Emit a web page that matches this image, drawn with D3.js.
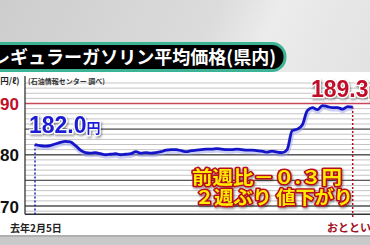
<!DOCTYPE html>
<html>
<head>
<meta charset="utf-8">
<script src="https://cdn.jsdelivr.net/npm/d3@7"></script>
<style>
  body { margin: 0; overflow: hidden; background: #e0e0e0; }
  svg { display: block; }
</style>
</head>
<body>
<script>
let width = 370;
let height = 245;

// weekly average price (yen / litre), from last Feb 5 to the day before yesterday
let prices = [
  182.0, 181.8, 181.7, 181.8, 182.1, 182.4, 182.6, 182.5, 181.8, 180.9,
  180.4, 180.3, 180.4, 180.2, 180.0, 180.1, 180.2, 180.0, 180.1, 180.2,
  180.6, 180.3, 180.4, 180.3, 180.4, 180.6, 180.9, 181.0, 181.0, 180.8,
  180.6, 180.8, 180.9, 181.0, 181.1, 181.1, 181.2, 181.1, 181.0, 181.0,
  181.1, 181.0, 180.9, 180.9, 180.8, 180.7, 180.5, 180.7, 180.5, 180.4,
  181.0, 184.7, 185.0, 185.8, 188.6, 189.2, 188.8, 189.6, 189.4, 189.2,
  189.2, 188.9, 189.4, 189.3
];
let yTicks = [170, 180, 190];
let majorLines = [170, 175, 180, 185];
let startLabel = "去年2月5日";
let endLabel = "おととい";
let title = "レギュラーガソリン平均価格(県内)";
let noteLines = ["前週比－０.３円", "２週ぶり 値下がり"];

let svg = d3.select("body")
    .append("svg")
    .attr("width", width)
    .attr("height", height);

let defs = svg.append("defs");

let bg = defs.append("linearGradient")
    .attr("id", "bg")
    .attr("x1", 0).attr("y1", 0).attr("x2", 1).attr("y2", 0.3);
bg.append("stop").attr("offset", "0").attr("stop-color", "#cdcdcd");
bg.append("stop").attr("offset", "0.55").attr("stop-color", "#dcdcdc");
bg.append("stop").attr("offset", "0.7").attr("stop-color", "#ececec");
bg.append("stop").attr("offset", "1").attr("stop-color", "#e2e2e2");

let shadow = defs.append("filter").attr("id", "shadow")
    .attr("x", "-10%").attr("y", "-20%").attr("width", "130%").attr("height", "160%");
shadow.append("feDropShadow")
    .attr("dx", 1).attr("dy", 1.5).attr("stdDeviation", 0.8)
    .attr("flood-color", "#000").attr("flood-opacity", 0.45);

// backgrounds
svg.append("rect").attr("width", width).attr("height", height).attr("fill", "url(#bg)");
svg.append("rect").attr("x", 0).attr("y", 72).attr("width", width).attr("height", 163).attr("fill", "#fff");
svg.append("rect").attr("x", 0).attr("y", 235).attr("width", width).attr("height", 10).attr("fill", "#c9c9c9");
svg.append("rect").attr("x", 0).attr("y", 235).attr("width", width).attr("height", 2).attr("fill", "#b0b0b0");

// title bar
svg.append("rect")
    .attr("x", -20).attr("y", 43.5)
    .attr("width", 305).attr("height", 27)
    .attr("rx", 13)
    .attr("fill", "#000")
    .attr("stroke", "#3bb394")
    .attr("stroke-width", 3);

svg.append("text")
    .attr("x", -8).attr("y", 64)
    .attr("textLength", 284)
    .attr("lengthAdjust", "spacingAndGlyphs")
    .attr("fill", "#fff")
    .style("font", "bold 18px 'Noto Sans CJK JP'")
    .text(title);

// scales
let yMin = 168.4;
let x = d3.scaleLinear().domain([0, prices.length - 1]).range([35, 352.7]);
let y = d3.scaleLinear().domain([170, 190]).range([206, 103.5]);
let left = 25;

// minor grid
svg.append("g")
    .selectAll("line")
    .data(d3.range(169, 195))
    .join("line")
    .attr("x1", left).attr("x2", width)
    .attr("y1", d => y(d)).attr("y2", d => y(d))
    .attr("stroke", "#c4c4c4")
    .attr("stroke-width", 1);

svg.append("g")
    .selectAll("line")
    .data(majorLines)
    .join("line")
    .attr("x1", left).attr("x2", width)
    .attr("y1", d => y(d)).attr("y2", d => y(d))
    .attr("stroke", "#5a5a5a")
    .attr("stroke-width", 1.3);

svg.append("line")
    .attr("x1", left).attr("x2", width)
    .attr("y1", y(190)).attr("y2", y(190))
    .attr("stroke", "#c8485a")
    .attr("stroke-width", 1.3);

// axes
svg.append("line")
    .attr("x1", left).attr("x2", left)
    .attr("y1", 76).attr("y2", y(yMin))
    .attr("stroke", "#333").attr("stroke-width", 1.3);
svg.append("line")
    .attr("x1", left).attr("x2", width)
    .attr("y1", y(yMin)).attr("y2", y(yMin))
    .attr("stroke", "#333").attr("stroke-width", 1.5);

let yAxis = svg.append("g")
    .attr("transform", `translate(${left - 6},0)`)
    .call(d3.axisLeft(y).tickValues(yTicks).tickSize(0).tickPadding(0));
yAxis.select(".domain").remove();
yAxis.selectAll("text")
    .attr("dy", "0.36em")
    .attr("fill", d => d === 190 ? "#c0102a" : "#111")
    .style("font", "bold 17px 'Liberation Sans', Arial, sans-serif");

svg.append("text")
    .attr("x", -3).attr("y", 84)
    .attr("fill", "#222")
    .style("font", "bold 8.5px 'Noto Sans CJK JP'")
    .text("(円/ℓ)");
svg.append("text")
    .attr("x", 28).attr("y", 84)
    .attr("fill", "#333")
    .style("font", "bold 7px 'Noto Sans CJK JP'")
    .text("(石油情報センター 調べ)");

// dotted markers
let last = prices.length - 1;
svg.append("line")
    .attr("x1", x(0)).attr("x2", x(0))
    .attr("y1", y(prices[0])).attr("y2", y(yMin))
    .attr("stroke", "#2020b8").attr("stroke-width", 1.5)
    .attr("stroke-dasharray", "2,2");
svg.append("line")
    .attr("x1", x(last)).attr("x2", x(last))
    .attr("y1", y(prices[last])).attr("y2", y(yMin) + 3)
    .attr("stroke", "#b01028").attr("stroke-width", 1.5)
    .attr("stroke-dasharray", "2,2");

// price line
let line = d3.line()
    .x((d, i) => x(i))
    .y(d => y(d))
    .curve(d3.curveMonotoneX);

svg.append("path")
    .datum(prices)
    .attr("d", line)
    .attr("fill", "none")
    .attr("stroke", "#9aa0e8")
    .attr("stroke-width", 5)
    .attr("stroke-opacity", 0.5)
    .attr("transform", "translate(0.5,1.5)");
svg.append("path")
    .datum(prices)
    .attr("d", line)
    .attr("fill", "none")
    .attr("stroke", "#1414c8")
    .attr("stroke-width", 2.8)
    .attr("stroke-linejoin", "round");

// value labels
let startText = svg.append("text")
    .attr("x", 29).attr("y", 133)
    .attr("fill", "#1a1ad2")
    .attr("stroke", "#fff").attr("stroke-width", 2.5)
    .attr("paint-order", "stroke")
    .attr("filter", "url(#shadow)")
    .style("font", "bold 23px 'Liberation Sans', Arial, sans-serif");
startText.append("tspan").text(d3.format(".1f")(prices[0]));
startText.append("tspan").style("font", "bold 14px 'Noto Sans CJK JP'").text("円");

let endText = svg.append("text")
    .attr("x", 311).attr("y", 97)
    .attr("fill", "#c0102a")
    .attr("stroke", "#fff").attr("stroke-width", 2.5)
    .attr("paint-order", "stroke")
    .attr("filter", "url(#shadow)")
    .style("font", "bold 23px 'Liberation Sans', Arial, sans-serif");
endText.append("tspan").text(d3.format(".1f")(prices[last]));
endText.append("tspan").style("font", "bold 14px 'Noto Sans CJK JP'").text("円");

// note
svg.append("g")
    .selectAll("text")
    .data(noteLines)
    .join("text")
    .attr("x", (d, i) => i === 0 ? 192 : 195)
    .attr("y", (d, i) => 184 + i * 20)
    .attr("textLength", (d, i) => i === 0 ? 150 : 158)
    .attr("lengthAdjust", "spacingAndGlyphs")
    .attr("fill", "#ffec00")
    .attr("stroke", "#b8101c").attr("stroke-width", 3)
    .attr("stroke-linejoin", "round")
    .attr("paint-order", "stroke")
    .attr("filter", "url(#shadow)")
    .style("font", "bold 18px 'Noto Sans CJK JP'")
    .text(d => d);

// date labels
svg.append("text")
    .attr("x", 10).attr("y", 232)
    .attr("fill", "#222")
    .style("font", "bold 10px 'Noto Sans CJK JP'")
    .text(startLabel);
svg.append("text")
    .attr("x", 327).attr("y", 232)
    .attr("fill", "#a0101e")
    .style("font", "bold 11px 'Noto Sans CJK JP'")
    .text(endLabel);
</script>
</body>
</html>
